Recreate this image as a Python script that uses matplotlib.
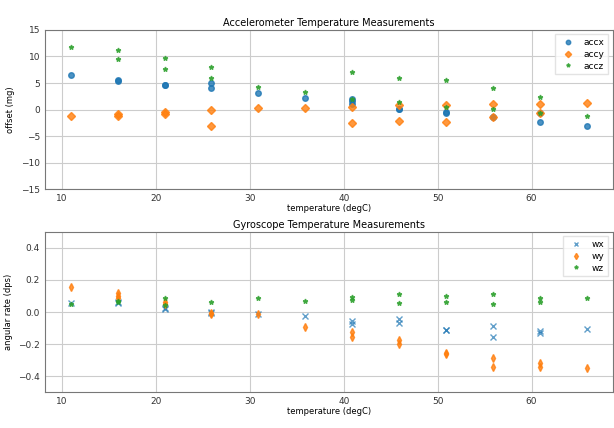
import numpy as np
import matplotlib
matplotlib.use('Agg')
import matplotlib.pyplot as plt

temps = [10.9, 15.9, 20.9, 25.9, 30.9, 35.9, 40.9, 45.9, 50.9, 55.9, 60.9, 65.9]

# accelerometer offsets (mg), list per temperature step
accx = [[6.45], [5.4, 5.5], [4.6, 4.7], [5.06, 4.0], [3.05], [2.17],
        [1.9, 1.6, 1.0], [0.03, 0.1], [-0.6, -0.5], [-1.48, -1.4], [-0.6, -2.3], [-3.17]]
accy = [[-1.17], [-0.8, -1.2], [-0.5, -0.9], [-0.1, -3.05], [0.22], [0.22],
        [0.4, -2.55], [0.85, -2.1], [0.85, -2.36], [1.04, -1.48], [1.04, -0.65], [1.22]]
accz = [[11.85], [11.2, 9.47], [9.65, 7.7], [8.1, 5.9], [4.3], [3.24],
        [7.0, 1.9], [6.0, 1.47], [5.57, 0.53], [4.1, 0.04], [2.3, -0.6], [-1.17]]

# gyroscope rates (dps)
wx = [[0.054], [0.055, 0.06], [0.017, 0.025], [-0.005, 0.0], [-0.015], [-0.027],
      [-0.054, -0.073], [-0.046, -0.067], [-0.112, -0.11], [-0.087, -0.156], [-0.12, -0.13], [-0.104]]
wy = [[0.156], [0.12, 0.1, 0.085], [0.065, 0.05], [-0.005, -0.015], [-0.01], [-0.094],
      [-0.125, -0.154], [-0.177, -0.202], [-0.255, -0.265], [-0.287, -0.341], [-0.316, -0.341], [-0.352]]
wz = [[0.05], [0.069, 0.06], [0.086, 0.041], [0.065], [0.09], [0.069],
      [0.096, 0.075], [0.11, 0.058], [0.1, 0.065], [0.11, 0.052], [0.086, 0.063], [0.09]]


def flatten(vals):
    xs, ys = [], []
    for t, v in zip(temps, vals):
        for y in v:
            xs.append(t)
            ys.append(y)
    return xs, ys


plt.rcParams['font.size'] = 6.5
plt.rcParams['axes.edgecolor'] = '#777777'
plt.rcParams['axes.linewidth'] = 0.8
plt.rcParams['xtick.major.size'] = 0
plt.rcParams['ytick.major.size'] = 0
plt.rcParams['xtick.color'] = '#333333'
plt.rcParams['ytick.color'] = '#333333'
plt.rcParams['legend.edgecolor'] = '#dddddd'

fig = plt.figure(figsize=(6.14, 4.28), dpi=100)
ax1 = fig.add_axes([0.073, 0.558, 0.925, 0.372])
ax2 = fig.add_axes([0.073, 0.084, 0.925, 0.374])

ax1.plot(*flatten(accx), 'o', color='C0', ms=4, alpha=0.8, label='accx')
ax1.plot(*flatten(accy), 'D', color='C1', ms=4, alpha=0.8, label='accy')
ax1.plot(*flatten(accz), '*', color='C2', ms=3.5, alpha=0.8, label='accz')
ax1.set_ylim(-15, 15)
ax1.set_yticks(np.arange(-15, 16, 5))
ax1.set_xticks([10, 20, 30, 40, 50, 60])
ax1.set_title('Accelerometer Temperature Measurements', fontsize=7, pad=3)
ax1.set_xlabel('temperature (degC)', fontsize=6, labelpad=1)
ax1.set_ylabel('offset (mg)', fontsize=6)
ax1.grid(True, color='#cccccc', linewidth=0.8)
ax1.set_axisbelow(True)
ax1.legend(loc='upper right', fontsize=6.5, markerscale=0.8, handlelength=2,
           borderpad=0.4, labelspacing=0.3, fancybox=False)

ax2.plot(*flatten(wx), 'x', color='C0', ms=4, alpha=0.7, label='wx')
ax2.plot(*flatten(wy), 'd', color='C1', ms=4, alpha=0.8, label='wy')
ax2.plot(*flatten(wz), '*', color='C2', ms=3.5, alpha=0.8, label='wz')
ax2.set_ylim(-0.5, 0.5)
ax2.set_yticks([-0.4, -0.2, 0.0, 0.2, 0.4])
ax2.set_xticks([10, 20, 30, 40, 50, 60])
ax2.set_title('Gyroscope Temperature Measurements', fontsize=7, pad=3)
ax2.set_xlabel('temperature (degC)', fontsize=6, labelpad=1)
ax2.set_ylabel('angular rate (dps)', fontsize=6)
ax2.grid(True, color='#cccccc', linewidth=0.8)
ax2.set_axisbelow(True)
ax2.legend(loc='upper right', fontsize=6.5, markerscale=0.8, handlelength=2,
           borderpad=0.4, labelspacing=0.3, fancybox=False)

fig.savefig('out.png', dpi=100)
